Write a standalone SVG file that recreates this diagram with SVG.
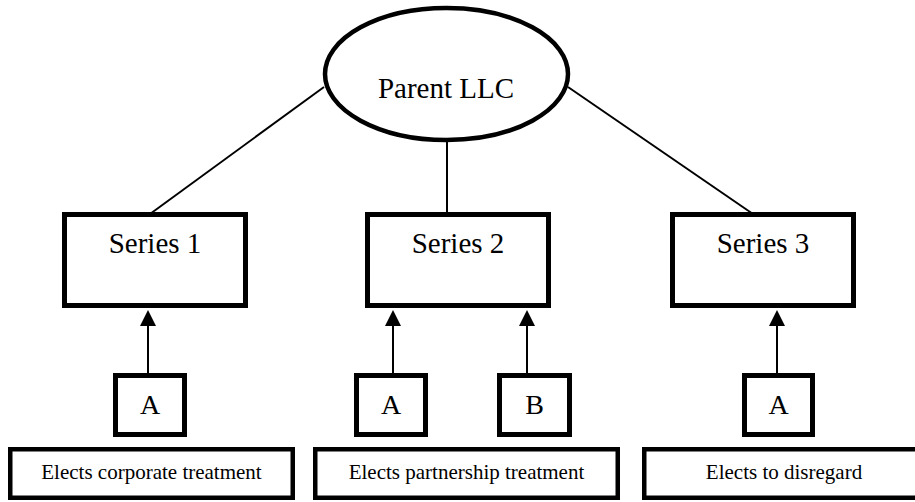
<svg xmlns="http://www.w3.org/2000/svg" width="915" height="502" viewBox="0 0 915 502">
  <style>
    text { font-family: "Liberation Serif", "Times New Roman", serif; fill: #000; text-anchor: middle; }
    .big { font-size: 29px; }
    .letter { font-size: 28px; }
    .small { font-size: 21px; }
    .box { fill: #fff; stroke: #000; stroke-width: 5; }
    .note { fill: #fff; stroke: #000; stroke-width: 4.5; }
    .link { stroke: #000; stroke-width: 2; fill: none; }
    .head { fill: #000; }
  </style>
  <rect width="915" height="502" fill="#fff"/>

  <!-- connectors -->
  <g id="connectors">
    <line class="link" x1="324" y1="87" x2="150" y2="214"/>
    <line class="link" x1="447" y1="140" x2="447" y2="214"/>
    <line class="link" x1="568" y1="87" x2="753" y2="214"/>
    <!-- member arrows -->
    <line class="link" x1="148" y1="324" x2="148" y2="375"/>
    <polygon class="head" points="148,310 140,326 156,326"/>
    <line class="link" x1="393" y1="324" x2="393" y2="375"/>
    <polygon class="head" points="393,310 385,326 401,326"/>
    <line class="link" x1="527" y1="324" x2="527" y2="375"/>
    <polygon class="head" points="527,310 519,326 535,326"/>
    <line class="link" x1="777" y1="324" x2="777" y2="375"/>
    <polygon class="head" points="777,310 769,326 785,326"/>
  </g>

  <g id="parent">
    <ellipse cx="446.5" cy="74" rx="121.5" ry="66" fill="#fff" stroke="#000" stroke-width="4.5"/>
    <text class="big" x="446" y="98">Parent LLC</text>
  </g>

  <g id="series1">
    <rect class="box" x="64.5" y="214.5" width="181" height="91"/>
    <text class="big" x="155" y="253">Series 1</text>
  </g>
  <g id="series2">
    <rect class="box" x="367.5" y="214.5" width="181" height="91"/>
    <text class="big" x="458" y="253">Series 2</text>
  </g>
  <g id="series3">
    <rect class="box" x="672.5" y="214.5" width="181" height="91"/>
    <text class="big" x="763" y="253">Series 3</text>
  </g>

  <g id="member-1a">
    <rect class="box" x="115.5" y="375.5" width="69" height="59"/>
    <text class="letter" x="150" y="414">A</text>
  </g>
  <g id="member-2a">
    <rect class="box" x="356.5" y="375.5" width="69" height="59"/>
    <text class="letter" x="391" y="414">A</text>
  </g>
  <g id="member-2b">
    <rect class="box" x="499.5" y="375.5" width="70" height="59"/>
    <text class="letter" x="534.5" y="414">B</text>
  </g>
  <g id="member-3a">
    <rect class="box" x="744.5" y="375.5" width="68" height="59"/>
    <text class="letter" x="778.5" y="414">A</text>
  </g>

  <g id="election-1">
    <rect class="note" x="10.25" y="449.25" width="282.5" height="48.5"/>
    <text class="small" x="151.5" y="479">Elects corporate treatment</text>
  </g>
  <g id="election-2">
    <rect class="note" x="315.25" y="449.25" width="302.5" height="48.5"/>
    <text class="small" x="466.5" y="479">Elects partnership treatment</text>
  </g>
  <g id="election-3">
    <rect class="note" x="644.25" y="449.25" width="279.5" height="48.5"/>
    <text class="small" x="784" y="479">Elects to disregard</text>
  </g>
</svg>
